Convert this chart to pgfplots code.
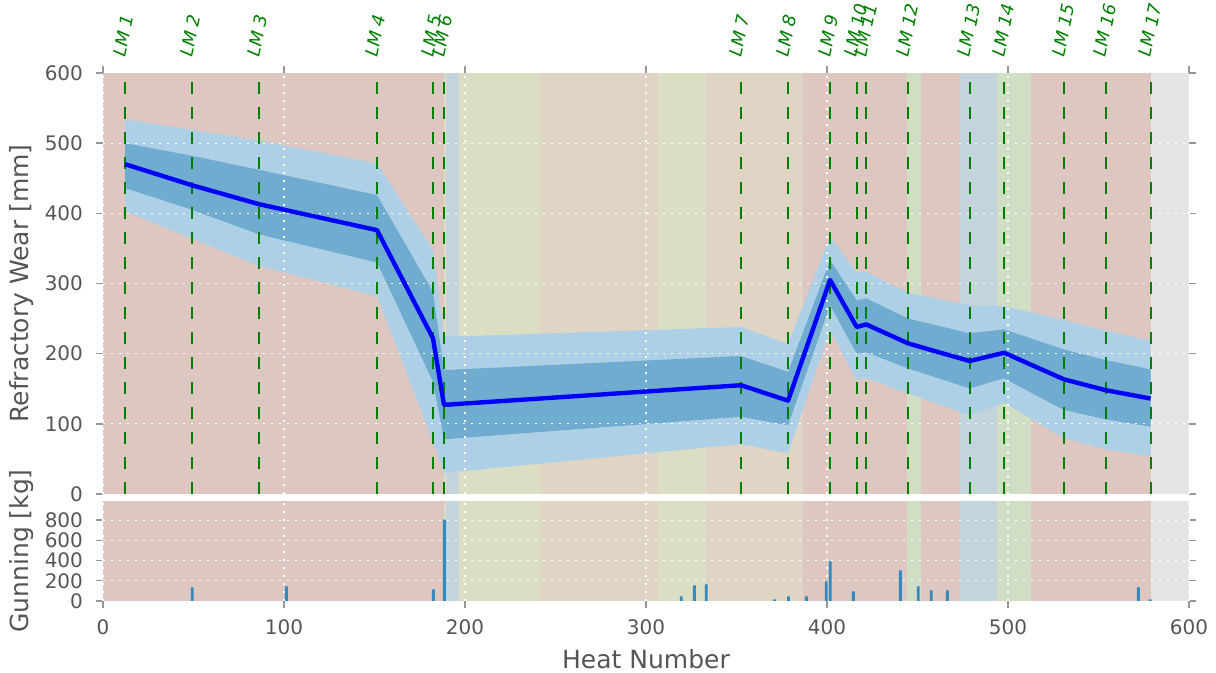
\documentclass[border=0pt]{standalone}
\usepackage{fontspec}
\setmainfont{DejaVu Sans}
\usepackage{pgfplots}
\pgfplotsset{compat=1.18}
\usepackage{pgfplotstable}

\definecolor{bpink}{RGB}{223,199,193}
\definecolor{bblue}{RGB}{195,212,220}
\definecolor{byg}{RGB}{219,222,194}
\definecolor{btan}{RGB}{224,212,196}
\definecolor{bgreen}{RGB}{208,223,196}
\definecolor{bgray}{RGB}{229,229,229}
\definecolor{outerb}{RGB}{174,208,230}
\definecolor{innerb}{RGB}{112,171,208}
\definecolor{gunbar}{RGB}{52,138,189}
\definecolor{lmgreen}{RGB}{0,128,0}
\definecolor{ticklab}{RGB}{85,85,85}
\definecolor{tickc}{RGB}{150,150,150}

\pgfplotstableread{
x     line
12.2  470
49.2  440
86.2  413
151.4 376
182.3 222
188.4 127
352.5 155
378.5 133
401.7 305
416.4 238
421.7 241.7
444.8 214.6
478.8 189.5
497.8 201.3
530.9 163.4
553.9 148
578.8 136
}\lmdata

\newcommand{\band}[4]{\addplot[fill=#3, draw=none] coordinates {(#1,0) (#1,#4) (#2,#4) (#2,0)} -- cycle;}
\newcommand{\allbands}[1]{%
\band{0}{188.4}{bpink}{#1}
\band{188.4}{189.5}{byg}{#1}
\band{189.5}{196.7}{bblue}{#1}
\band{196.7}{241.4}{byg}{#1}
\band{241.4}{306.4}{btan}{#1}
\band{306.4}{333}{byg}{#1}
\band{333}{386.7}{btan}{#1}
\band{386.7}{444}{bpink}{#1}
\band{444}{452}{bgreen}{#1}
\band{452}{473.5}{bpink}{#1}
\band{473.5}{494}{bblue}{#1}
\band{494}{512.7}{bgreen}{#1}
\band{512.7}{578.8}{bpink}{#1}
\band{578.8}{600}{bgray}{#1}
}

\tikzset{gridst/.style={white, line width=0.6pt, dash pattern=on 1.2pt off 2.8pt}}
\pgfplotsset{
  common/.style={
    scale only axis, width=543pt, anchor=south west,
    xmin=0, xmax=600,
    axis line style={draw=none},
    tick align=outside,
    major tick length=3.5pt,
    tick style={tickc, line width=0.7pt},
    ticklabel style={font=\fontsize{10}{12}\selectfont, text=ticklab},
    /pgf/number format/assume math mode=true,
    yticklabel style={xshift=-3pt},
    clip=false,
  }
}

\begin{document}
\begin{tikzpicture}
\begin{axis}[common,
  at={(51.5pt,89.5pt)}, height=210.5pt,
  ymin=0, ymax=600,
  xtick={0,100,...,600}, xticklabels={}, xtick pos=right,
  ytick={0,100,...,600},
]
\allbands{600}
% outer band (upper edge forward, lower edge backward)
\addplot[fill=outerb, draw=none] coordinates {
(12.2,534) (49.2,519) (86.2,504) (151.4,471) (182.3,348) (188.4,224) (352.5,238) (378.5,214)
(401.7,366.5) (416.4,315.8) (421.7,316.7) (444.8,286.8) (478.8,269) (497.8,267.8) (530.9,247.9)
(553.9,232.8) (578.8,218.4)
(578.8,54) (553.9,63.7) (530.9,79.3) (497.8,130) (478.8,112.5) (444.8,143.4) (421.7,164.8)
(416.4,162) (401.7,233.6) (378.5,58) (352.5,71) (188.4,30) (182.3,75) (151.4,282) (86.2,325)
(49.2,364) (12.2,403)
} -- cycle;
% inner band
\addplot[fill=innerb, draw=none] coordinates {
(12.2,500) (49.2,482) (86.2,462) (151.4,426) (182.3,288) (188.4,176.6) (352.5,196.6) (378.5,174)
(401.7,333) (416.4,276) (421.7,278.7) (444.8,250) (478.8,229) (497.8,234.6) (530.9,206)
(553.9,190.9) (578.8,177.6)
(578.8,95.9) (553.9,106.4) (530.9,119.7) (497.8,164.8) (478.8,150.5) (444.8,179) (421.7,201.8)
(416.4,200) (401.7,269) (378.5,98) (352.5,110) (188.4,78) (182.3,160) (151.4,330) (86.2,370)
(49.2,405) (12.2,436)
} -- cycle;
\pgfplotsinvokeforeach{0,100,200,300,400,500,600}{\draw[gridst] (axis cs:#1,0) -- (axis cs:#1,600);}
\pgfplotsinvokeforeach{100,200,300,400,500}{\draw[gridst] (axis cs:0,#1) -- (axis cs:600,#1);}
\pgfplotsinvokeforeach{12.2,49.2,86.2,151.4,182.3,188.4,352.5,378.5,401.7,416.4,421.7,444.8,478.8,497.8,530.9,553.9,578.8}{
  \addplot[lmgreen, line width=1pt, dash pattern=on 6pt off 6.5pt] coordinates {(#1,0) (#1,600)};
}
\addplot[blue, line width=2.2pt, line join=round] table[x=x, y=line] {\lmdata};
\pgfplotsforeachungrouped \xx/\ll in {12.2/1,49.2/2,86.2/3,151.4/4,182.3/5,188.4/6,352.5/7,378.5/8,401.7/9,416.4/10,421.7/11,444.8/12,478.8/13,497.8/14,530.9/15,553.9/16,578.8/17}{
  \edef\tmp{\noexpand\node[rotate=78, anchor=base west, inner sep=0pt, text=lmgreen, font=\noexpand\fontsize{8.8}{10}\noexpand\selectfont\noexpand\itshape] at (axis cs:\xx,622) {LM \ll};}
  \tmp
}
\end{axis}

\begin{axis}[common,
  at={(51.5pt,36pt)}, height=50pt,
  ymin=0, ymax=990,
  xtick={0,100,...,600}, xtick pos=left,
  ytick={0,200,...,800},
  xticklabel style={yshift=-2.5pt},
]
\allbands{990}
\pgfplotsinvokeforeach{0,100,200,300,400,500,600}{\draw[gridst] (axis cs:#1,0) -- (axis cs:#1,990);}
\pgfplotsinvokeforeach{200,400,600,800}{\draw[gridst] (axis cs:0,#1) -- (axis cs:600,#1);}
\addplot[ybar, bar width=1.6, fill=gunbar, draw=none] coordinates {
(49.3,135) (101.3,145) (182.5,115) (188.6,805) (319.5,46) (326.7,155) (333.3,165)
(371,17) (378.7,46) (388.6,46) (399.6,194) (401.8,391) (414.6,96) (440.5,302)
(450.4,145) (457.6,105) (466.5,105) (572,135) (578.6,17)
};
\end{axis}

\node[rotate=90, font=\fontsize{12.5}{15}\selectfont, text=ticklab] at (11pt,194.75pt) {Refractory Wear [mm]};
\node[rotate=90, font=\fontsize{12.5}{15}\selectfont, text=ticklab] at (11pt,61pt) {Gunning [kg]};
\node[font=\fontsize{12.5}{15}\selectfont, text=ticklab] at (323pt,7pt) {Heat Number};
\pgfresetboundingbox
\useasboundingbox (0,0) rectangle (608pt,336.5pt);
\end{tikzpicture}
\end{document}
